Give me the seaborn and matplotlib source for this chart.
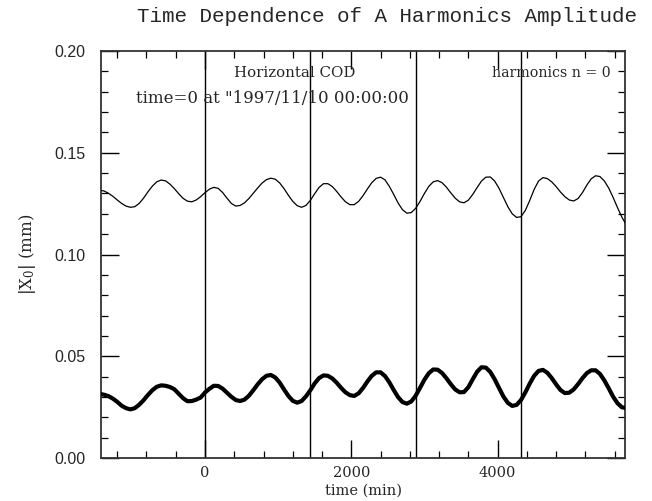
import numpy as np
import pandas as pd
import matplotlib
matplotlib.use("Agg")
import matplotlib.pyplot as plt
import seaborn as sns
from matplotlib.ticker import MultipleLocator, FormatStrFormatter

# time grid (min), one point per hour from -1 day to +4 days
time_min = np.arange(-1440, 5761, 60)

# |X0| upper curve (mm)
amp_upper = [
    0.1316, 0.1312, 0.1301, 0.1286, 0.1268, 0.1251, 0.1238, 0.1232, 0.1235, 0.1251,
    0.1277, 0.1308, 0.1336, 0.1357, 0.1366, 0.1362, 0.1346, 0.1324, 0.1299, 0.1276,
    0.1262, 0.1259, 0.1268, 0.1284, 0.1304, 0.1321, 0.1330, 0.1325, 0.1305, 0.1277,
    0.1251, 0.1238, 0.1241, 0.1254, 0.1275, 0.1301, 0.1327, 0.1351, 0.1368, 0.1375,
    0.1370, 0.1352, 0.1324, 0.1291, 0.1261, 0.1240, 0.1232, 0.1241, 0.1266, 0.1299,
    0.1330, 0.1348, 0.1348, 0.1334, 0.1310, 0.1283, 0.1259, 0.1245, 0.1245, 0.1261,
    0.1289, 0.1322, 0.1353, 0.1374, 0.1380, 0.1367, 0.1335, 0.1295, 0.1253, 0.1220,
    0.1203, 0.1206, 0.1227, 0.1261, 0.1300, 0.1335, 0.1357, 0.1363, 0.1353, 0.1331,
    0.1303, 0.1277, 0.1259, 0.1254, 0.1267, 0.1295, 0.1329, 0.1361, 0.1380, 0.1381,
    0.1361, 0.1325, 0.1280, 0.1235, 0.1200, 0.1182, 0.1186, 0.1217, 0.1266, 0.1320,
    0.1361, 0.1378, 0.1373, 0.1357, 0.1334, 0.1307, 0.1284, 0.1268, 0.1263, 0.1275,
    0.1304, 0.1341, 0.1372, 0.1387, 0.1383, 0.1361, 0.1326, 0.1280, 0.1230, 0.1183,
    0.1145,
]

# |X0| lower curve (mm)
amp_lower = [
    0.0315, 0.0311, 0.0304, 0.0292, 0.0276, 0.0257, 0.0245, 0.0239, 0.0245, 0.0262,
    0.0284, 0.0310, 0.0333, 0.0350, 0.0357, 0.0355, 0.0349, 0.0338, 0.0316, 0.0294,
    0.0279, 0.0280, 0.0287, 0.0297, 0.0322, 0.0340, 0.0355, 0.0354, 0.0341, 0.0321,
    0.0301, 0.0285, 0.0280, 0.0287, 0.0306, 0.0333, 0.0362, 0.0387, 0.0404, 0.0408,
    0.0396, 0.0371, 0.0337, 0.0305, 0.0281, 0.0272, 0.0280, 0.0303, 0.0333, 0.0367,
    0.0393, 0.0406, 0.0404, 0.0391, 0.0370, 0.0345, 0.0323, 0.0309, 0.0305, 0.0318,
    0.0344, 0.0376, 0.0404, 0.0421, 0.0421, 0.0403, 0.0372, 0.0334, 0.0299, 0.0275,
    0.0267, 0.0278, 0.0306, 0.0345, 0.0385, 0.0417, 0.0435, 0.0434, 0.0418, 0.0392,
    0.0363, 0.0337, 0.0323, 0.0324, 0.0348, 0.0387, 0.0424, 0.0446, 0.0444, 0.0423,
    0.0387, 0.0344, 0.0302, 0.0271, 0.0256, 0.0261, 0.0285, 0.0323, 0.0366, 0.0404,
    0.0428, 0.0433, 0.0419, 0.0393, 0.0362, 0.0334, 0.0319, 0.0321, 0.0337, 0.0363,
    0.0392, 0.0417, 0.0431, 0.0431, 0.0413, 0.0381, 0.0342, 0.0301, 0.0269, 0.0249,
    0.0246,
]

# day boundaries (min)
day_marks = [0, 1440, 2880, 4320]

df = pd.DataFrame({"time": time_min, "upper": amp_upper, "lower": amp_lower})

sns.set_theme(style="ticks")
plt.rcParams["font.family"] = ["DejaVu Serif"]
plt.rcParams["mathtext.fontset"] = "dejavuserif"

fig = plt.figure(figsize=(6.52, 5.01), dpi=100)
ax = fig.add_axes([0.1549, 0.0858, 0.8037, 0.8124])

for d in day_marks:
    ax.axvline(d, color="black", lw=1.0, zorder=1)

sns.lineplot(data=df, x="time", y="upper", ax=ax, color="black", lw=0.9, zorder=3)
sns.lineplot(data=df, x="time", y="lower", ax=ax, color="black", lw=3.0, zorder=3)

ax.set_xlim(-1422, 5742)
ax.set_ylim(0, 0.2)

ax.xaxis.set_major_locator(MultipleLocator(2000))
ax.xaxis.set_minor_locator(MultipleLocator(400))
ax.yaxis.set_major_locator(MultipleLocator(0.05))
ax.yaxis.set_minor_locator(MultipleLocator(0.01))
ax.yaxis.set_major_formatter(FormatStrFormatter("%.2f"))

ax.tick_params(which="both", direction="in", top=True, right=True, color="black")
ax.tick_params(which="major", length=13, width=1.0)
ax.tick_params(which="minor", length=5, width=0.9)
ax.tick_params(axis="x", labelsize=10.5, pad=6)
ax.tick_params(axis="y", labelsize=11.5, pad=11)
for lab in ax.get_yticklabels():
    lab.set_family("Liberation Sans")

for s in ax.spines.values():
    s.set_color("#333333")
    s.set_linewidth(1.3)

ax.set_xlabel("time (min)", fontsize=10.5)
ax.xaxis.set_label_coords(0.5, -0.064)
ax.set_ylabel(r"|X$_0$| (mm)", fontsize=12)
ax.yaxis.set_label_coords(-0.12, 0.5)

ax.text(396, 0.189, "Horizontal COD", fontsize=10.8, va="center", ha="left")
ax.text(-943, 0.1766, 'time=0 at "1997/11/10 00:00:00', fontsize=12,
        va="center", ha="left")
ax.text(3923, 0.189, "harmonics n = 0", fontsize=10.2, va="center", ha="left")

fig.text(0.594, 0.968, "Time Dependence of A Harmonics Amplitude",
         family="Liberation Mono", fontsize=15, ha="center", va="center")

fig.savefig("out.png", dpi=100)
